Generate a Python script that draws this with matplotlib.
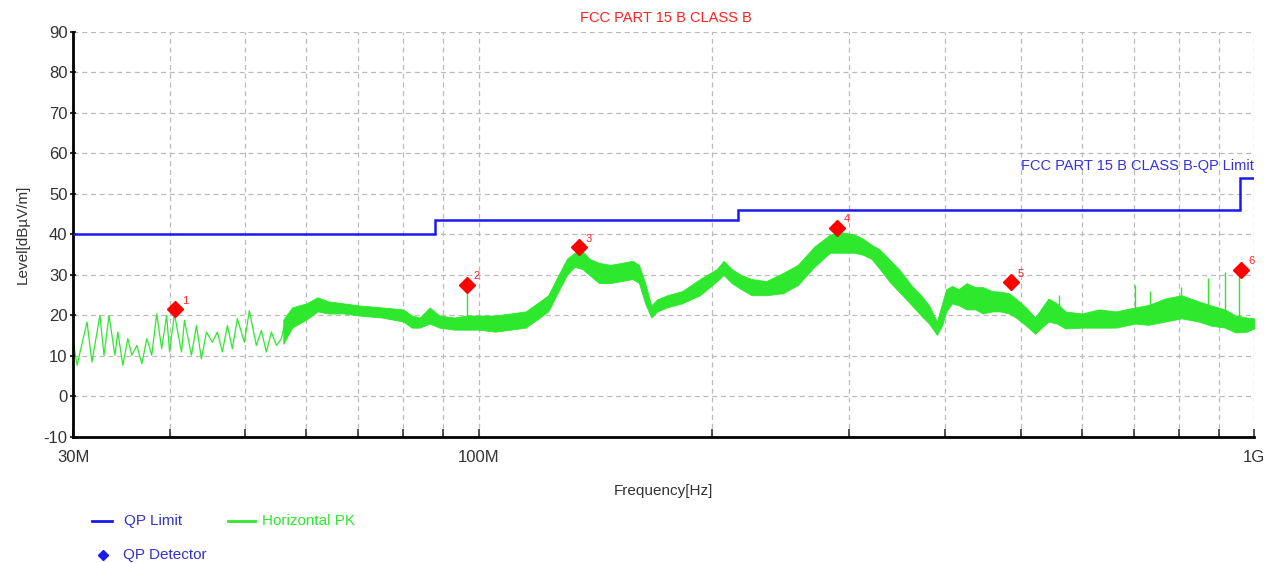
import matplotlib
matplotlib.use("Agg")
import matplotlib.pyplot as plt
from matplotlib.lines import Line2D
from matplotlib.ticker import FixedLocator, NullFormatter

plt.rcParams['font.family'] = ['Liberation Sans', 'DejaVu Sans']
plt.rcParams['axes.unicode_minus'] = False

# ---- data (frequencies in MHz, levels in dBuV/m) ----
limit_edges = [30, 88, 216, 960, 1000]
limit_levels = [40, 43.5, 46, 54]

osc_freq = [30.0, 30.36, 31.27, 31.73, 32.49, 32.89, 33.38, 33.97, 34.27, 34.78, 35.30, 35.72,
            36.26, 36.80, 37.35, 37.90, 38.46, 39.03, 39.61, 39.96, 40.54, 41.40, 41.76, 42.64,
            43.28, 43.92, 44.58, 45.37, 46.05, 46.74, 47.44, 48.14, 48.87, 49.89, 50.64, 51.70,
            52.48, 53.26, 54.07, 54.88, 55.69, 56.19]
osc_level = [14.0, 7.7, 18.4, 8.5, 20.0, 10.2, 20.0, 10.2, 15.9, 7.7, 14.3, 10.2,
             12.6, 8.1, 14.3, 10.2, 20.4, 11.8, 20.0, 11.0, 20.4, 11.0, 18.8, 10.2,
             17.5, 9.3, 15.9, 13.4, 15.9, 11.0, 17.5, 11.8, 19.2, 13.4, 21.2, 12.6,
             16.3, 11.0, 15.9, 12.6, 14.3, 17.5]

band_freq = [56, 57.5, 60, 62, 64, 67, 70, 75, 80, 82, 84, 86.5, 89, 93, 96.6, 100, 105, 110,
             115, 119, 123, 126, 130, 133, 136, 139, 143, 148, 153, 158, 161, 164, 167, 170,
             175, 183, 193, 203, 207, 212, 218, 225, 235, 247, 258, 271, 284, 295, 305, 313,
             321, 329, 340, 350, 362, 372, 381, 390, 396, 401, 408, 416, 426, 437, 447, 460,
             470, 483, 493, 508, 522, 543, 557, 571, 600, 631, 663, 703, 731, 768, 806, 848,
             880, 917, 947, 979, 1000]
band_low = [13, 17, 19, 21, 20.5, 20.5, 20, 19.5, 18.5, 17, 17, 18, 17, 16.5, 16.5, 16.5, 16, 16.5,
            17, 19, 21, 25, 30, 32, 31.5, 30, 28, 28, 28.5, 29, 28, 23, 19.5, 21,
            22, 23, 25, 28.5, 30, 28, 26.5, 25, 25, 25.5, 27.5, 32, 35.5, 35.5, 35.5, 35,
            34, 31.5, 28, 25.5, 22.5, 20, 18, 15.2, 17.5, 21, 23, 22.5, 21.5, 21.5, 20.5, 21,
            21, 20.5, 19.5, 17.5, 15.5, 18.5, 18, 16.8, 17, 17, 17, 18, 17.7, 18.5, 19.3, 18.5,
            17.5, 17, 15.8, 16, 16.8]
band_high = [19, 22, 23, 24.5, 23.5, 23, 22.5, 22, 21.5, 20, 19.5, 22, 20, 19.5, 20, 20, 20, 20.5,
             21, 23, 25, 29, 34, 35.5, 36, 34, 33, 32.5, 33, 33.5, 32.5, 28, 22.5, 24,
             25, 26, 29, 31.5, 33.5, 31.5, 30, 29, 28.5, 30.5, 32.5, 37, 40, 40.5, 40, 39,
             37.5, 36.3, 33.5, 31, 27.3, 25, 22.5, 18.5, 23, 26.5, 27.3, 26.5, 28, 27, 27, 26,
             25.9, 25.5, 24.2, 22, 19.5, 24.2, 23, 21, 20.5, 21.5, 21, 22, 22.6, 24.2, 25, 23.5,
             22.5, 21.5, 20, 19.5, 19.3]

spike_freq = [96.6, 560, 703, 735, 805, 873, 917, 956]
spike_base = [19, 20, 20, 20, 21, 21, 20, 19]
spike_top = [27.3, 25, 27.5, 26, 27, 29.2, 30.8, 31.0]

qp_freq = [40.6, 96.6, 134.8, 290, 486, 962]
qp_level = [21.5, 27.6, 36.8, 41.7, 28.2, 31.3]
qp_labels = ['1', '2', '3', '4', '5', '6']

y_ticks = [-10, 0, 10, 20, 30, 40, 50, 60, 70, 80, 90]
x_major = [30, 100, 1000]
x_major_labels = ['30M', '100M', '1G']
x_minor = [40, 50, 60, 70, 80, 90, 200, 300, 400, 500, 600, 700, 800, 900]

# ---- figure ----
fig = plt.figure(figsize=(12.68, 5.63), dpi=100)
ax = fig.add_axes([0.0576, 0.2238, 0.9314, 0.7194])
ax.set_xscale('log')
ax.set_xlim(30, 1000)
ax.set_ylim(-10, 90)

green = '#2ee82e'
blue = '#1a1aee'

# grid
for v in x_minor + x_major:
    ax.axvline(v, color='#bbbbbb', ls=(0, (4, 3)), lw=0.9, zorder=0)
for v in y_ticks:
    ax.axhline(v, color='#bbbbbb', ls=(0, (4, 3)), lw=0.9, zorder=0)

# limit
ax.stairs(limit_levels, limit_edges, color=blue, lw=1.8, baseline=None, zorder=3)

# trace
ax.plot(osc_freq, osc_level, color=green, lw=0.9, zorder=2)
ax.fill_between(band_freq, band_low, band_high, color=green, lw=0.6, edgecolor=green, zorder=2)
ax.vlines(spike_freq, spike_base, spike_top, color=green, lw=1.0, zorder=2)

# QP markers
ax.plot(qp_freq, qp_level, ls='none', marker='D', ms=8, color='#ff0000', zorder=4)
for f, l, t in zip(qp_freq, qp_level, qp_labels):
    ax.annotate(t, (f, l), xytext=(5, 4), textcoords='offset points', color='#ff2222',
                fontsize=8, zorder=5)

# axes styling
for s in ['top', 'right']:
    ax.spines[s].set_visible(False)
for s in ['left', 'bottom']:
    ax.spines[s].set_linewidth(2)
ax.set_yticks(y_ticks)
ax.tick_params(axis='y', labelsize=12, length=4, width=1.5, direction='inout', pad=2, colors='#333333')
ax.xaxis.set_major_locator(FixedLocator(x_major))
ax.set_xticklabels(x_major_labels)
ax.xaxis.set_minor_locator(FixedLocator(x_minor))
ax.xaxis.set_minor_formatter(NullFormatter())
ax.tick_params(axis='x', which='both', direction='in', length=6, width=1.2, labelsize=12, pad=9,
               colors='#333333')

ax.set_ylabel('Level[dBµV/m]', fontsize=11, color='#333333', labelpad=10)
ax.set_xlabel('Frequency[Hz]', fontsize=11, color='#333333', labelpad=14)

fig.text(0.525, 0.968, 'FCC PART 15 B CLASS B', color='#ff2020', fontsize=10.5, ha='center', va='center')
ax.text(1000, 57, 'FCC PART 15 B CLASS B-QP Limit', color='#3333dd', fontsize=10.5, ha='right', va='center')

# legend (manual)
fig.add_artist(Line2D([0.0725, 0.0885], [0.075, 0.075], color=blue, lw=2, transform=fig.transFigure))
fig.text(0.098, 0.075, 'QP Limit', color='#3333cc', fontsize=11, va='center')
fig.add_artist(Line2D([0.18, 0.201], [0.075, 0.075], color=green, lw=2, transform=fig.transFigure))
fig.text(0.207, 0.075, 'Horizontal PK', color=green, fontsize=11, va='center')
fig.add_artist(Line2D([0.0815], [0.015], marker='D', ms=5, color=blue, ls='none', transform=fig.transFigure))
fig.text(0.097, 0.015, 'QP Detector', color='#3333cc', fontsize=11, va='center')

fig.savefig('out.png', dpi=100)
